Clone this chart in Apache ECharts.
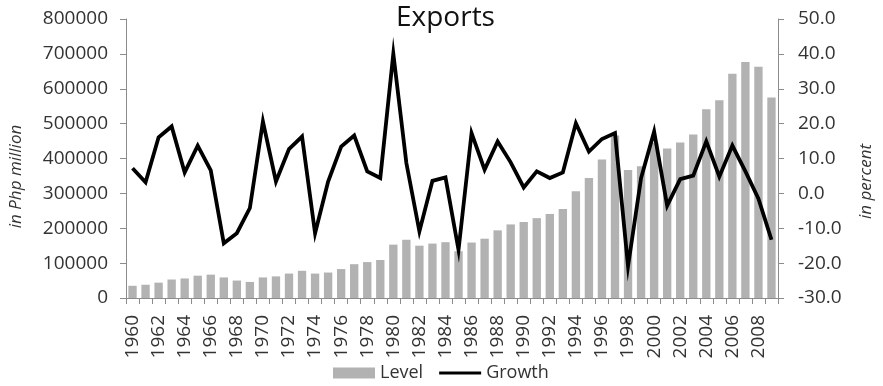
<!DOCTYPE html>
<html>
<head>
<meta charset="utf-8">
<script src="https://cdn.jsdelivr.net/npm/echarts@6/dist/echarts.min.js"></script>
<style>
  html, body { margin: 0; padding: 0; background: #fff; }
  #chart { width: 883px; height: 386px; }
</style>
</head>
<body>
<div id="chart"></div>
<script>
// Years on the category axis
const years = [
  1960, 1961, 1962, 1963, 1964, 1965, 1966, 1967, 1968, 1969,
  1970, 1971, 1972, 1973, 1974, 1975, 1976, 1977, 1978, 1979,
  1980, 1981, 1982, 1983, 1984, 1985, 1986, 1987, 1988, 1989,
  1990, 1991, 1992, 1993, 1994, 1995, 1996, 1997, 1998, 1999,
  2000, 2001, 2002, 2003, 2004, 2005, 2006, 2007, 2008, 2009
].map(String);

// Export level, in Php million
const level = [
  35000, 38000, 44000, 53000, 56000, 64000, 67000, 59000, 50000, 46000,
  59000, 62000, 70000, 78000, 70000, 73000, 83000, 97000, 103000, 109000,
  153000, 167000, 150000, 156000, 160000, 134000, 159000, 170000, 194000, 211000,
  218000, 229000, 241000, 255000, 306000, 344000, 397000, 466000, 367000, 378000,
  445000, 429000, 446000, 469000, 541000, 567000, 643000, 677000, 663000, 575000
];

// Year-on-year growth, in percent
const growth = [
  7.2, 3.2, 16.1, 19.2, 6.0, 13.7, 6.6, -14.3, -11.4, -4.2,
  20.6, 3.4, 12.7, 16.3, -11.4, 3.4, 13.4, 16.6, 6.3, 4.4,
  40.0, 8.7, -10.9, 3.6, 4.6, -16.2, 17.3, 6.8, 14.9, 8.9,
  1.7, 6.3, 4.4, 6.0, 20.1, 12.0, 15.6, 17.3, -20.9, 4.4,
  17.7, -3.5, 4.1, 5.1, 14.9, 4.8, 13.7, 6.3, -1.5, -13.3
];

const FONT = 'Open Sans';
const TEXT = '#333333';
const AXIS = '#8c8c8c';

const chart = echarts.init(document.getElementById('chart'), null, { renderer: 'canvas' });

chart.setOption({
  backgroundColor: '#ffffff',
  animation: false,
  textStyle: { fontFamily: FONT, color: TEXT },
  title: {
    text: 'Exports',
    left: 396,
    top: 4,
    padding: 0,
    textStyle: { fontFamily: FONT, fontSize: 28, fontWeight: 'normal', color: '#111' }
  },
  legend: {
    top: 364,
    left: 333,
    padding: 0,
    itemGap: 16,
    itemWidth: 42,
    itemHeight: 11,
    textStyle: { fontFamily: FONT, fontSize: 18, color: TEXT },
    data: [
      { name: 'Level', icon: 'rect' },
      { name: 'Growth', icon: 'path://M0,0 L14,0 L14,1 L0,1 Z' }
    ]
  },
  grid: { left: 125, right: 101, top: 19, bottom: 88, containLabel: false },
  xAxis: {
    type: 'category',
    data: years,
    boundaryGap: true,
    axisLine: { lineStyle: { color: AXIS, width: 1 } },
    axisTick: { show: true, interval: 0, length: 6, lineStyle: { color: AXIS } },
    axisLabel: {
      interval: 1,
      rotate: 90,
      fontFamily: FONT,
      fontSize: 19,
      color: TEXT,
      margin: 17
    }
  },
  yAxis: [
    {
      type: 'value',
      min: 0,
      max: 800000,
      interval: 100000,
      position: 'left',
      name: 'in Php million',
      nameLocation: 'middle',
      nameGap: 101,
      nameTextStyle: {
        fontFamily: FONT, fontSize: 17, fontStyle: 'italic', color: TEXT,
        padding: [0, 36, 0, 0]
      },
      axisLine: { show: true, lineStyle: { color: AXIS } },
      axisTick: { show: true, length: 6, lineStyle: { color: AXIS } },
      splitLine: { show: false },
      axisLabel: {
        fontFamily: FONT, fontSize: 19, color: TEXT, margin: 18,
        formatter: v => String(v)
      }
    },
    {
      type: 'value',
      min: -30,
      max: 50,
      interval: 10,
      position: 'right',
      name: 'in percent',
      nameLocation: 'middle',
      nameGap: 80,
      nameRotate: 90,
      nameTextStyle: {
        fontFamily: FONT, fontSize: 17, fontStyle: 'italic', color: TEXT,
        padding: [0, 46, 0, 0]
      },
      axisLine: { show: true, lineStyle: { color: AXIS } },
      axisTick: { show: true, length: 6, lineStyle: { color: AXIS } },
      splitLine: { show: false },
      axisLabel: {
        fontFamily: FONT, fontSize: 19, color: TEXT, margin: 20,
        formatter: v => v.toFixed(1)
      }
    }
  ],
  series: [
    {
      name: 'Level',
      type: 'bar',
      yAxisIndex: 0,
      data: level,
      barCategoryGap: '36%',
      itemStyle: { color: '#b2b2b2' }
    },
    {
      name: 'Growth',
      type: 'line',
      yAxisIndex: 1,
      data: growth,
      symbol: 'none',
      lineStyle: { color: '#000000', width: 3.8, join: 'miter' },
      itemStyle: { color: '#000000' }
    }
  ]
});
</script>
</body>
</html>
